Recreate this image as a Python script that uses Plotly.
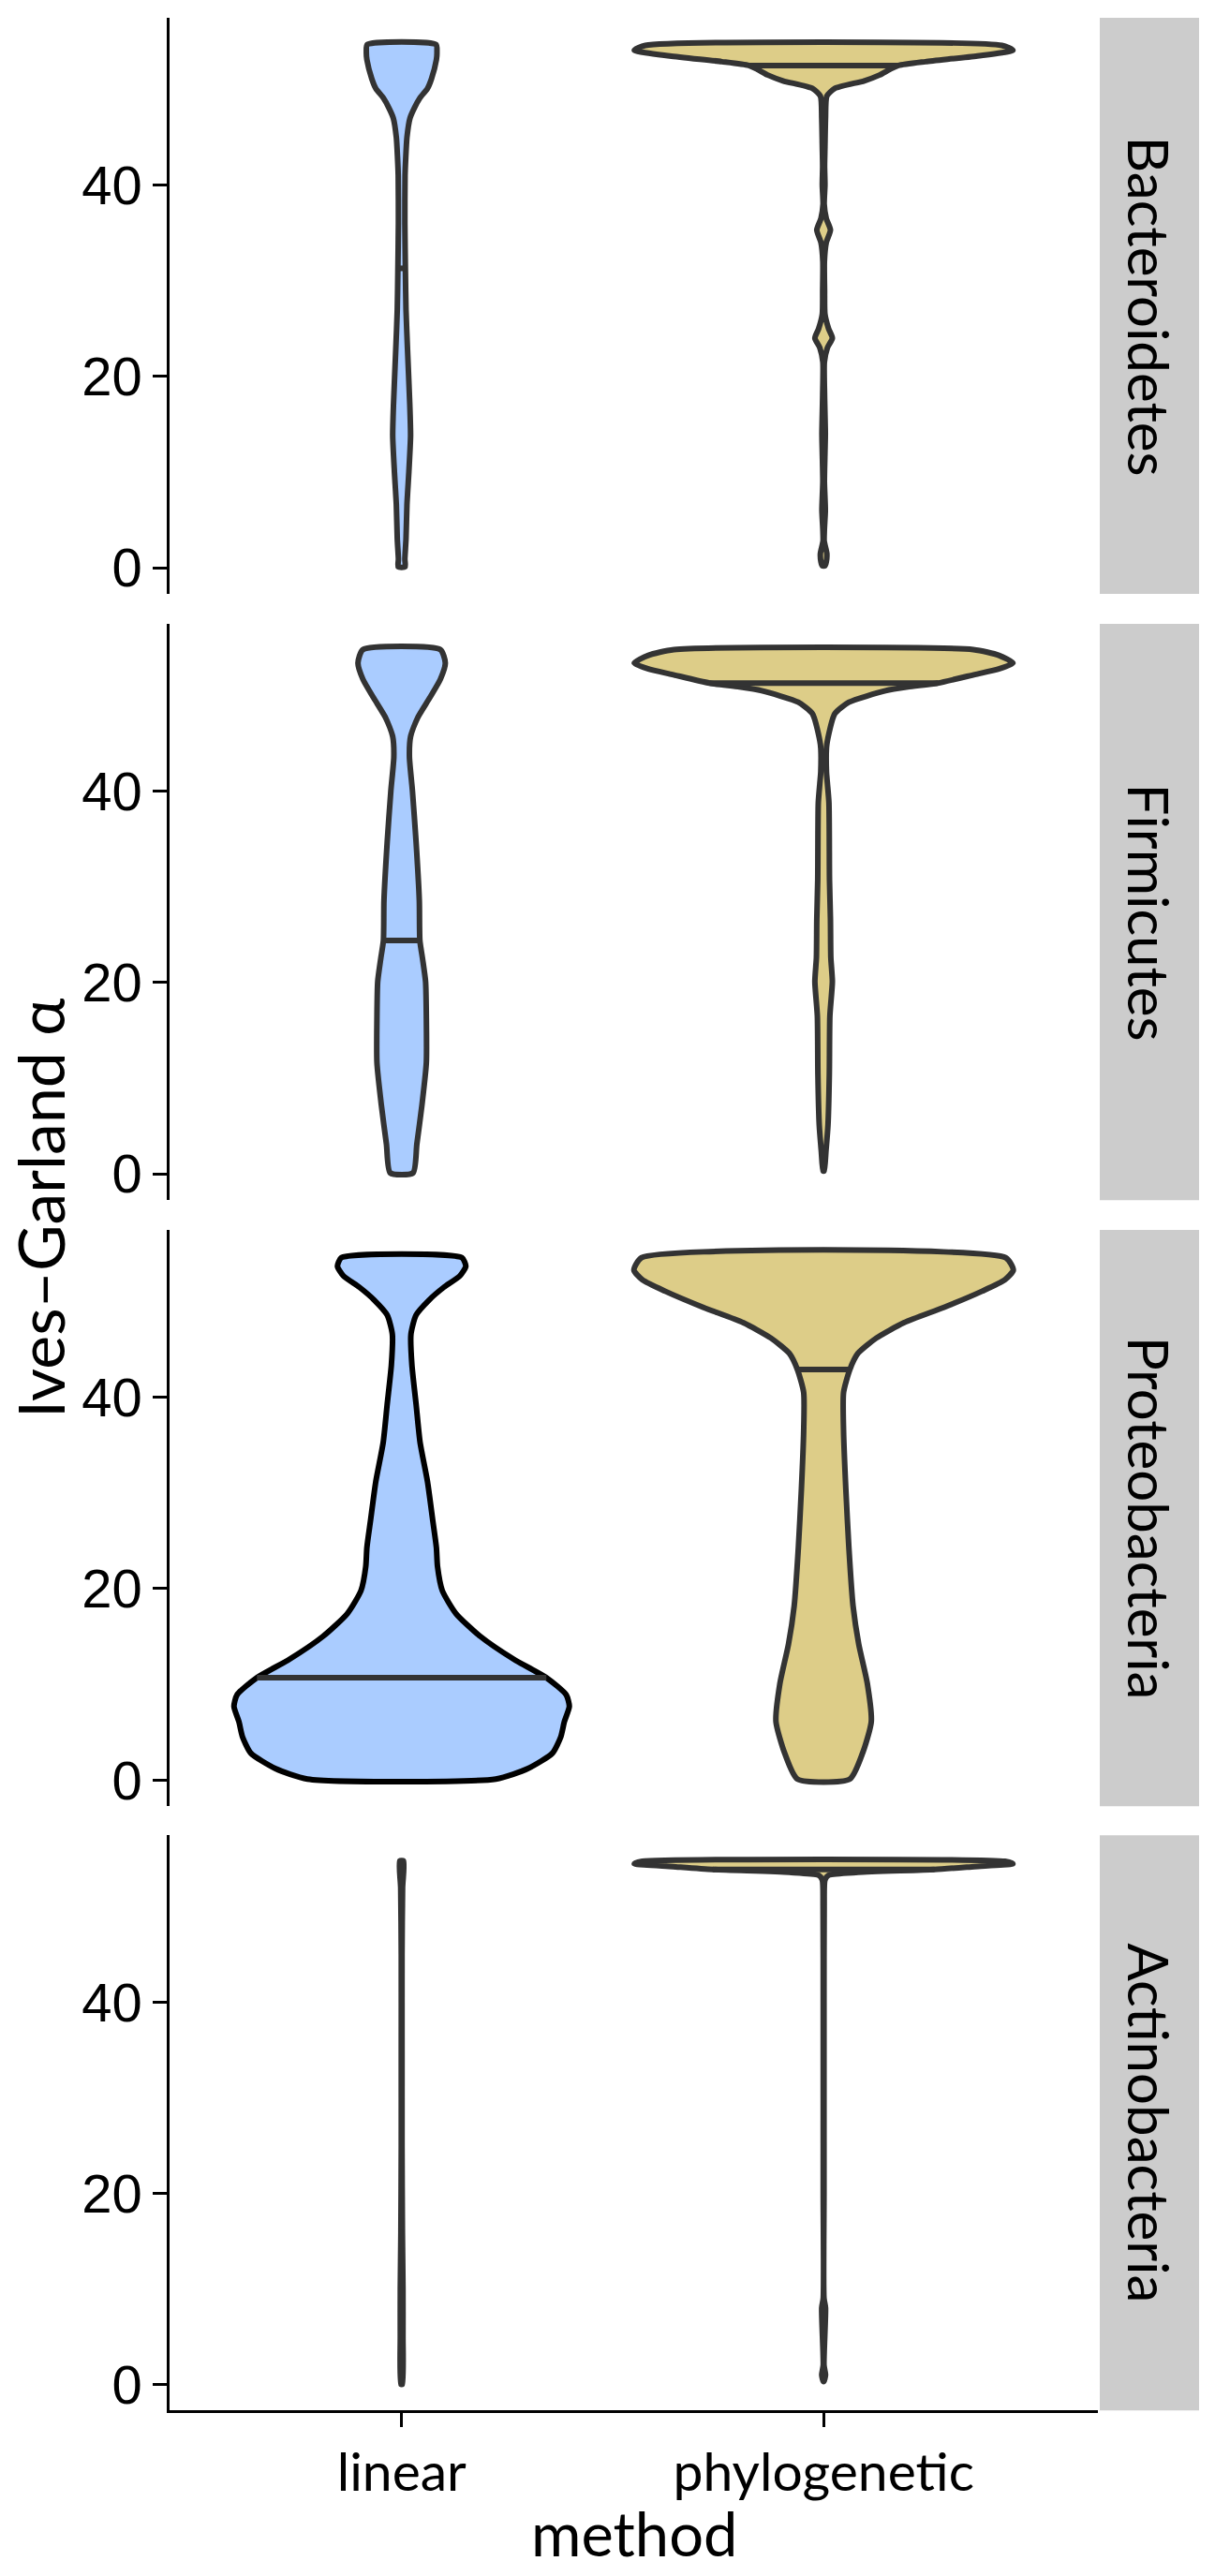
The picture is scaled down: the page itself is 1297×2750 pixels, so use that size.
import plotly.graph_objects as go

# ---------------- data ----------------
phyla = ["Bacteroidetes", "Firmicutes", "Proteobacteria", "Actinobacteria"]
methods = ["linear", "phylogenetic"]
y_tick_values = [0, 20, 40]

# Violin outlines: alpha value and relative density (1 = widest violin)
bacteroidetes_linear_alpha = [0.1, 0.9, 3.0, 6.6, 10.0, 13.8, 17.0, 22.8, 27.0, 30.9, 36.0, 41.0, 43.0,
                              45.0, 47.0, 48.1, 49.1, 50.1, 51.1, 53.1, 53.9, 54.7]
bacteroidetes_linear_density = [0.018, 0.017, 0.023, 0.028, 0.038, 0.047, 0.043, 0.031, 0.023, 0.020, 0.017,
                                0.018, 0.022, 0.028, 0.044, 0.068, 0.096, 0.136, 0.157, 0.183, 0.186, 0.181]

bacteroidetes_phylo_alpha = [0.2, 0.6, 1.5, 2.8, 4.0, 6.0, 9.0, 12.0, 14.0, 18.0, 21.5, 23.0, 24.0, 25.0,
                             26.5, 29.0, 32.0, 34.0, 35.3, 36.5, 38.0, 40.0, 42.0, 44.0, 47.0, 49.3, 50.1,
                             50.9, 51.5, 52.1, 52.5, 52.9, 53.5, 54.1, 54.6]
bacteroidetes_phylo_density = [0.007, 0.014, 0.017, 0.003, 0.004, 0.009, 0.004, 0.007, 0.009, 0.005, 0.004,
                               0.020, 0.046, 0.026, 0.007, 0.005, 0.004, 0.014, 0.036, 0.014, 0.003, 0.007,
                               0.005, 0.007, 0.010, 0.017, 0.059, 0.214, 0.294, 0.349, 0.394, 0.536, 0.810,
                               0.997, 0.939]

firmicutes_linear_alpha = [0.1, 3.1, 7.2, 11.6, 16.5, 20.1, 22.5, 24.4, 28.6, 34.7, 40.0, 43.6, 45.7, 47.7,
                           49.7, 51.7, 53.4, 54.8]
firmicutes_linear_density = [0.060, 0.080, 0.107, 0.130, 0.130, 0.126, 0.110, 0.096, 0.093, 0.076, 0.057,
                             0.041, 0.047, 0.085, 0.146, 0.204, 0.230, 0.204]

firmicutes_phylo_alpha = [0.3, 2.3, 5.1, 10.4, 16.5, 20.1, 22.6, 26.6, 30.7, 38.8, 40.8, 42.0, 44.9, 48.1,
                          49.3, 50.5, 50.9, 51.3, 52.2, 52.8, 53.4, 54.2, 54.8]
firmicutes_phylo_density = [0.003, 0.012, 0.023, 0.030, 0.033, 0.046, 0.038, 0.036, 0.031, 0.028, 0.020,
                            0.015, 0.017, 0.059, 0.133, 0.326, 0.443, 0.601, 0.797, 0.926, 0.997, 0.923,
                            0.788]

proteobacteria_linear_alpha = [0.1, 1.2, 2.8, 4.5, 6.1, 7.7, 8.9, 10.7, 12.6, 15.0, 17.4, 19.8, 22.3, 24.3,
                               27.1, 31.2, 35.3, 39.3, 43.4, 46.6, 48.6, 50.2, 51.5, 52.7, 53.7, 54.6]
proteobacteria_linear_density = [0.496, 0.665, 0.794, 0.838, 0.857, 0.883, 0.867, 0.762, 0.592, 0.415,
                                 0.286, 0.214, 0.189, 0.183, 0.164, 0.136, 0.097, 0.076, 0.054, 0.049,
                                 0.076, 0.146, 0.222, 0.307, 0.338, 0.317]

proteobacteria_phylo_alpha = [0.1, 2.8, 6.1, 10.1, 14.2, 18.2, 24.3, 30.4, 36.5, 40.5, 42.9, 44.6, 46.2,
                              47.8, 49.4, 51.1, 52.3, 53.3, 54.6]
proteobacteria_phylo_density = [0.138, 0.205, 0.251, 0.230, 0.185, 0.155, 0.133, 0.117, 0.105, 0.105,
                                0.138, 0.181, 0.278, 0.423, 0.633, 0.835, 0.955, 0.999, 0.959]

actinobacteria_linear_alpha = [0.0, 5.0, 10.0, 15.9, 25.0, 35.0, 45.0, 52.0, 54.8]
actinobacteria_linear_density = [0.004, 0.007, 0.007, 0.004, 0.002, 0.002, 0.002, 0.005, 0.010]

actinobacteria_phylo_alpha = [0.3, 1.0, 2.0, 8.0, 9.0, 20.0, 40.0, 50.0, 52.8, 53.3, 53.6, 53.9, 54.2,
                              54.5, 54.75]
actinobacteria_phylo_density = [0.002, 0.010, 0.002, 0.010, 0.002, 0.002, 0.002, 0.003, 0.007, 0.026,
                                0.181, 0.584, 0.794, 0.997, 0.955]

# medians (alpha) and violin density at the median
median_alpha_linear = [31.3, 24.4, 10.7, 15.9]
median_density_linear = [0.023, 0.096, 0.762, 0.004]
median_alpha_phylo = [52.5, 51.3, 42.9, 53.9]
median_density_phylo = [0.394, 0.601, 0.138, 0.584]

# ---------------- styling ----------------
W, H = 1297, 2750
MAX_HALF = 0.45
FILL = {"linear": "#aaccff", "phylogenetic": "#ddcd88"}
OUTLINE = "#333333"
LW = 6

panel_px = [(19, 635), (667, 1283), (1315, 1931), (1962, 2577)]
x_left_px, x_right_px = 181, 1172
strip_left_px, strip_right_px = 1174, 1280
Y_RANGE = [-2.74, 57.49]
X_RANGE = [0.45, 2.65]

def py(p):
    return 1 - p / H

def px(p):
    return p / W

profiles = {
    ("Bacteroidetes", "linear"): (bacteroidetes_linear_alpha, bacteroidetes_linear_density),
    ("Bacteroidetes", "phylogenetic"): (bacteroidetes_phylo_alpha, bacteroidetes_phylo_density),
    ("Firmicutes", "linear"): (firmicutes_linear_alpha, firmicutes_linear_density),
    ("Firmicutes", "phylogenetic"): (firmicutes_phylo_alpha, firmicutes_phylo_density),
    ("Proteobacteria", "linear"): (proteobacteria_linear_alpha, proteobacteria_linear_density),
    ("Proteobacteria", "phylogenetic"): (proteobacteria_phylo_alpha, proteobacteria_phylo_density),
    ("Actinobacteria", "linear"): (actinobacteria_linear_alpha, actinobacteria_linear_density),
    ("Actinobacteria", "phylogenetic"): (actinobacteria_phylo_alpha, actinobacteria_phylo_density),
}

fig = go.Figure()
layout = dict(
    width=W, height=H, margin=dict(l=0, r=0, t=0, b=0),
    paper_bgcolor="white", plot_bgcolor="white", showlegend=False,
)

annotations = []
shapes = []

for i, phylum in enumerate(phyla):
    yname = "y" if i == 0 else f"y{i+1}"
    for j, method in enumerate(methods):
        c = j + 1
        alpha, dens = profiles[(phylum, method)]
        xs = [c + MAX_HALF * d for d in dens] + [c - MAX_HALF * d for d in reversed(dens)]
        ys = list(alpha) + list(reversed(alpha))
        xs.append(xs[0])
        ys.append(ys[0])
        oc = "#000000" if (phylum == "Proteobacteria" and method == "linear") else OUTLINE
        fig.add_trace(go.Scatter(
            x=xs, y=ys, mode="lines", fill="toself", fillcolor=FILL[method],
            line=dict(color=oc, width=LW, shape="spline", smoothing=0.6),
            xaxis="x", yaxis=yname, hoverinfo="skip",
        ))
        if method == "linear":
            m, md = median_alpha_linear[i], median_density_linear[i]
        else:
            m, md = median_alpha_phylo[i], median_density_phylo[i]
        fig.add_trace(go.Scatter(
            x=[c - MAX_HALF * md, c + MAX_HALF * md], y=[m, m], mode="lines",
            line=dict(color=OUTLINE, width=LW), xaxis="x", yaxis=yname, hoverinfo="skip",
        ))

    top, bot = panel_px[i]
    layout["yaxis" if i == 0 else f"yaxis{i+1}"] = dict(
        domain=[py(bot), py(top)], range=Y_RANGE, anchor="x",
        tickvals=y_tick_values, ticktext=[str(v) for v in y_tick_values],
        ticks="outside", ticklen=15, tickwidth=2.5, tickcolor="black",
        showline=True, linewidth=2.5, linecolor="black",
        showgrid=False, zeroline=False,
        tickfont=dict(family="Liberation Sans", size=58, color="black"),
    )
    shapes.append(dict(type="rect", xref="paper", yref="paper",
                       x0=px(strip_left_px), x1=px(strip_right_px),
                       y0=py(bot), y1=py(top), fillcolor="#cccccc", line=dict(width=0),
                       layer="below"))
    annotations.append(dict(text=phylum, xref="paper", yref="paper",
                            x=px((strip_left_px + strip_right_px) / 2), y=py((top + bot) / 2),
                            xanchor="center", yanchor="middle", showarrow=False, textangle=90,
                            font=dict(family="Lato", size=60, color="black")))

layout["xaxis"] = dict(
    domain=[px(x_left_px), px(x_right_px)], range=X_RANGE, anchor="y4",
    tickvals=[1, 2], ticktext=methods,
    ticks="outside", ticklen=15, tickwidth=2.5, tickcolor="black",
    showline=True, linewidth=2.5, linecolor="black",
    showgrid=False, zeroline=False,
    tickfont=dict(family="Lato", size=57, color="black"),
)

annotations.append(dict(text="method", xref="paper", yref="paper",
                        x=px((x_left_px + x_right_px) / 2), y=py(2708),
                        xanchor="center", yanchor="middle", showarrow=False,
                        font=dict(family="Lato", size=65, color="black")))
annotations.append(dict(text="Ives\u2013Garland \u03b1", xref="paper", yref="paper",
                        x=px(42), y=py(1292), xanchor="center", yanchor="middle",
                        showarrow=False, textangle=-90,
                        font=dict(family="Lato", size=68, color="black")))

layout["annotations"] = annotations
layout["shapes"] = shapes
fig.update_layout(**layout)
fig.write_html("out.html")
